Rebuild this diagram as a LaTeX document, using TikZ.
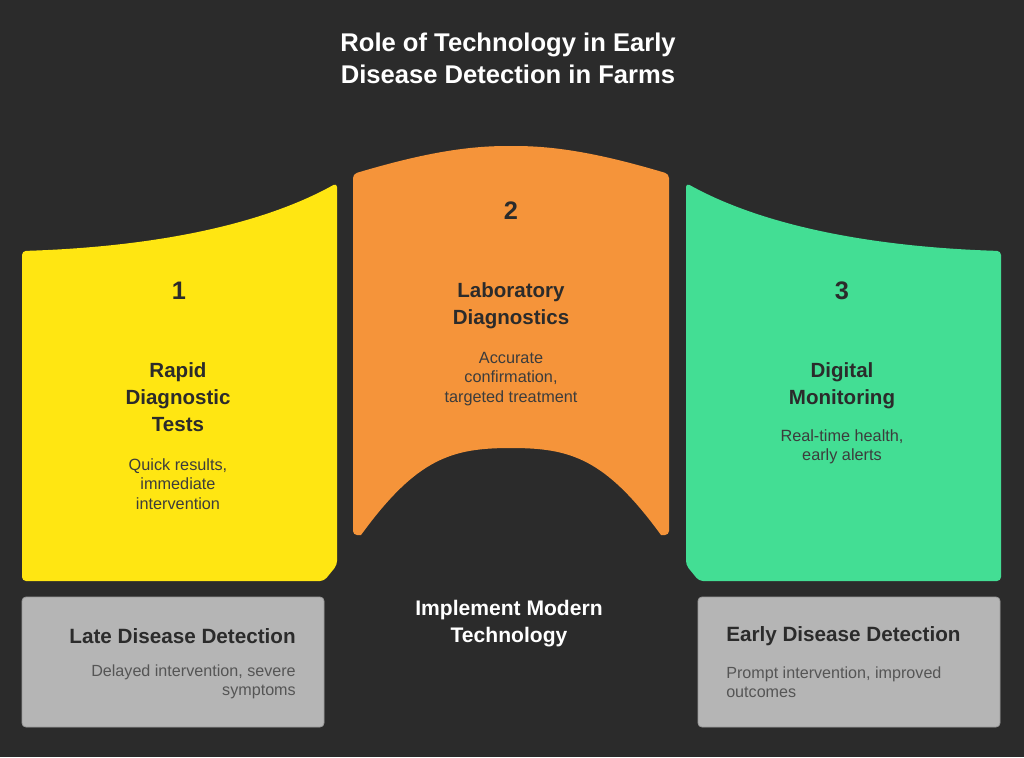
\documentclass[tikz,border=0pt]{standalone}
\usepackage{fontspec}
\setmainfont{Liberation Sans}
\definecolor{bg}{HTML}{2B2B2B}
\definecolor{cyellow}{HTML}{FFE612}
\definecolor{corange}{HTML}{F5943A}
\definecolor{cgreen}{HTML}{43DE94}
\definecolor{cgray}{HTML}{B5B5B5}
\definecolor{cgrayline}{HTML}{9A9A9A}
\definecolor{tdark}{HTML}{2B2B2B}
\definecolor{tdesc}{HTML}{3C3C3C}
\definecolor{tgdesc}{HTML}{555555}
\tikzset{
  numtxt/.style={font=\bfseries\fontsize{19}{23}\selectfont, text=tdark},
  headtxt/.style={font=\bfseries\fontsize{15.4}{20}\selectfont, text=tdark, align=center},
  desctxt/.style={font=\fontsize{12.2}{14.5}\selectfont, text=tdesc, align=center},
  boxhead/.style={font=\bfseries\fontsize{15.5}{20}\selectfont, text=tdark, inner sep=0pt},
  boxdesc/.style={font=\fontsize{12.1}{14.3}\selectfont, text=tgdesc, inner sep=0pt},
  graybox/.style={fill=cgray, draw=cgrayline, line width=0.6pt, rounded corners=3pt},
  bandshape/.style={rounded corners=3pt}
}
\begin{document}
\begin{tikzpicture}[x=0.75pt,y=-0.75pt]
\fill[bg] (0,0) rectangle (1024,757);
\useasboundingbox (0,0) rectangle (1024,757);

% title
\node[font=\bfseries\fontsize{19.2}{24}\selectfont, text=white, align=center] (title) at (508,58) {Role of Technology in Early\\Disease Detection in Farms};

% yellow shape
\fill[cyellow, bandshape] (22,581) -- (22,251) .. controls (150,247) and (260,226) .. (337,183) -- (337,565) -- (324,581) -- cycle;
% orange shape
\fill[corange, bandshape] (353,535) -- (353,174) .. controls (420,154) and (465,146) .. (511,146) .. controls (557,146) and (602,154) .. (669,174) -- (669,535)
  [sharp corners] -- (661,535) .. controls (605,458) and (570,448) .. (511,448) .. controls (452,448) and (417,458) .. (361,535) [rounded corners=3pt] -- cycle;
% green shape
\fill[cgreen, bandshape] (1001,581) -- (1001,251) .. controls (873,247) and (763,226) .. (686,183) -- (686,565) -- (699,581) -- cycle;

% numbers
\node[numtxt] (n1) at (179,291) {1};
\node[numtxt] (n2) at (511,211) {2};
\node[numtxt] (n3) at (842,291) {3};

% headings
\node[headtxt] (h1) at (178,397) {Rapid\\Diagnostic\\Tests};
\node[desctxt] (d1) at (178,484) {Quick results,\\immediate\\intervention};
\node[headtxt] (h2) at (511,306) {Laboratory\\Diagnostics};
\node[desctxt] (d2) at (511,379) {Accurate\\confirmation,\\targeted treatment};
\node[headtxt] (h3) at (842,386) {Digital\\Monitoring};
\node[desctxt] (d3) at (842,447) {Real-time health,\\early alerts};

% middle label
\node[font=\bfseries\fontsize{15.8}{20}\selectfont, text=white, align=center] (impl) at (509,623.5) {Implement Modern\\Technology};

% gray boxes
\path[graybox] (22,597) rectangle (324,727);
\path[graybox] (698,597) rectangle (1000,727);
\node[boxhead, anchor=east] (lh) at (296,636) {Late Disease Detection};
\node[boxdesc, anchor=east, align=right] (ld) at (296,682) {Delayed intervention, severe\\symptoms};
\node[boxhead, anchor=west] (eh) at (726,636) {Early Disease Detection};
\node[boxdesc, anchor=west, align=left] (ed) at (726,682) {Prompt intervention, improved\\outcomes};
\end{tikzpicture}
\end{document}
